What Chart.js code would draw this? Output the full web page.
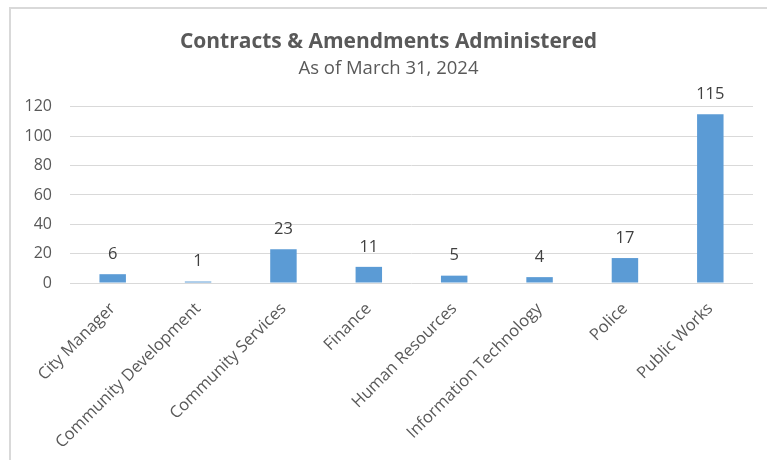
<!DOCTYPE html>
<html><head><meta charset="utf-8">
<script src="https://cdn.jsdelivr.net/npm/chart.js@4"></script>
<style>
html,body{margin:0;padding:0;background:#fff;overflow:hidden;}
#frame{position:absolute;left:9px;top:7px;width:800px;height:500px;border-left:2px solid #d9d9d9;border-top:2px solid #d9d9d9;}
#wrap{position:absolute;left:0;top:0;width:767px;height:460px;}
</style></head><body>
<div id="frame"></div>
<div id="wrap"><canvas id="c"></canvas></div>
<script>
const titleText = 'Contracts & Amendments Administered';
const subtitleText = 'As of March 31, 2024';
const categories = ['City Manager','Community Development','Community Services','Finance','Human Resources','Information Technology','Police','Public Works'];
const contracts = [6, 1, 23, 11, 5, 4, 17, 115];
const yMin = 0, yMax = 120, yStep = 20;

const FONT = "'Open Sans', sans-serif";
const TXT = '#595959';

const valueLabels = {
  id: 'valueLabels',
  afterDatasetsDraw(chart) {
    const ctx = chart.ctx;
    ctx.save();
    ctx.font = '16.5px ' + FONT;
    ctx.fillStyle = '#404040';
    ctx.textAlign = 'center';
    ctx.textBaseline = 'middle';
    chart.getDatasetMeta(0).data.forEach((el, i) => {
      ctx.fillText(String(chart.data.datasets[0].data[i]), el.x, el.y - 20);
    });
    ctx.restore();
  }
};

new Chart(document.getElementById('c'), {
  type: 'bar',
  data: {
    labels: categories,
    datasets: [{
      data: contracts,
      backgroundColor: '#5b9bd5',
      borderWidth: 0,
      categoryPercentage: 1,
      barPercentage: 0.31
    }]
  },
  options: {
    responsive: true,
    maintainAspectRatio: false,
    animation: false,
    layout: { padding: { left: 24, right: 14, top: 0, bottom: 0 } },
    plugins: {
      legend: { display: false },
      tooltip: { enabled: false },
      title: {
        display: true, text: titleText, color: TXT,
        font: { family: FONT, size: 21, weight: 'bold', lineHeight: 1.2 },
        padding: { top: 29.5, bottom: 0 }
      },
      subtitle: {
        display: true, text: subtitleText, color: TXT,
        font: { family: FONT, size: 18.5, lineHeight: 1.2 },
        padding: { top: 3, bottom: 27 }
      }
    },
    scales: {
      x: {
        grid: { display: false },
        border: { display: false },
        ticks: {
          color: TXT, font: { family: FONT, size: 16.5 },
          minRotation: 45, maxRotation: 45, autoSkip: false, padding: 8
        },
        afterFit(s) { s.height = 177; }
      },
      y: {
        min: yMin, max: yMax,
        grid: { color: '#d9d9d9', lineWidth: 1, drawTicks: false },
        border: { display: false },
        ticks: {
          stepSize: yStep, color: TXT, font: { family: FONT, size: 16 }, padding: 18
        },
        afterFit(s) { s.width = 46; }
      }
    }
  },
  plugins: [valueLabels]
});
</script>
</body></html>
